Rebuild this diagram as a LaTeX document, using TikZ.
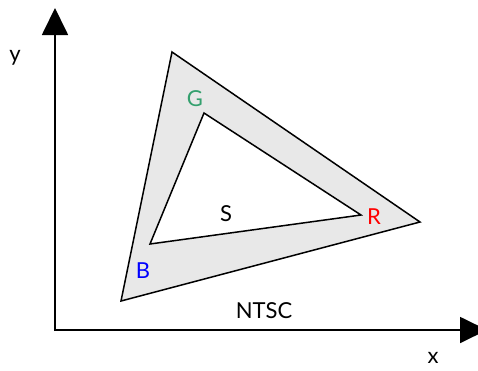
\documentclass[tikz,border=0pt]{standalone}
\usepackage{fontspec}
\setmainfont{Lato}
\usetikzlibrary{arrows.meta}
\definecolor{gcol}{RGB}{52,160,110}
\definecolor{fillgray}{RGB}{232,232,232}
\tikzset{
  axis/.style={line width=1.8pt, -{Triangle[length=27pt,width=26pt]}},
  tri/.style={line width=1.5pt, line join=miter},
  lbl/.style={font=\fontsize{22}{22}\selectfont, inner sep=0pt}
}
\begin{document}
\begin{tikzpicture}[x=1pt,y=-1pt]
\useasboundingbox (0,0) rectangle (478,370);
\coordinate (O) at (55,330);
\coordinate (ytop) at (55,8);
\coordinate (xend) at (487,330);
\draw[axis] (O|-0,331) -- (ytop);
\draw[axis] (54,330) -- (xend);
% triangles
\coordinate (oG) at (172,52);
\coordinate (oR) at (420,222);
\coordinate (oB) at (121,301);
\coordinate (iG) at (204,113);
\coordinate (iR) at (361,215);
\coordinate (iB) at (150,244);
\fill[fillgray, even odd rule] (oG) -- (oR) -- (oB) -- cycle (iG) -- (iR) -- (iB) -- cycle;
\draw[tri] (oG) -- (oR) -- (oB) -- cycle;
\draw[tri] (iG) -- (iR) -- (iB) -- cycle;
% labels
\node[lbl, text=gcol] (G) at (195,99) {G};
\node[lbl, text=red] (R) at (374,217) {R};
\node[lbl, text=blue] (B) at (143,271) {B};
\node[lbl] (S) at (226,214) {S};
\node[lbl] (N) at (264,311) {NTSC};
\node[lbl] (xl) at (433,358) {x};
\node[lbl] (yl) at (15,58) {y};
\end{tikzpicture}
\end{document}
